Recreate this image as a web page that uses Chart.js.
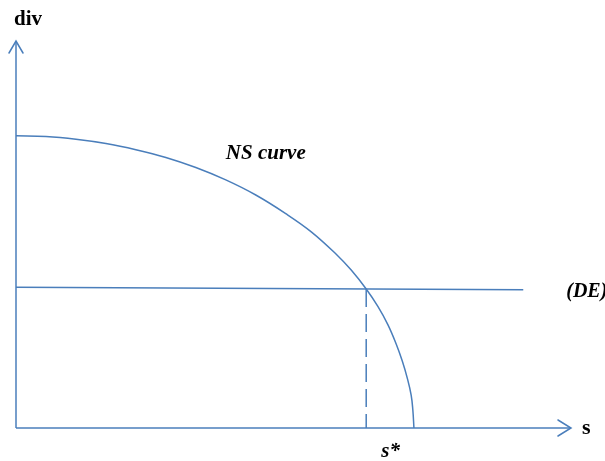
<!DOCTYPE html>
<html>
<head>
<meta charset="utf-8">
<script src="https://cdn.jsdelivr.net/npm/chart.js@4"></script>
<style>
  html, body { margin: 0; padding: 0; background: #fff; }
  #wrap { width: 605px; height: 461px; position: relative; }
</style>
</head>
<body>
<div id="wrap"><canvas id="grafico"></canvas></div>
<script>
// NS curve (s, div)
const nsS   = [0, 0.54, 1.08, 1.62, 2.16, 2.70, 3.24, 3.78, 4.32, 4.86, 5.32, 5.77, 6.04, 6.31, 6.52, 6.70, 6.85, 6.96, 7.05, 7.12, 7.15, 7.17];
const nsDiv = [7.55, 7.53, 7.46, 7.35, 7.19, 6.99, 6.73, 6.41, 6.02, 5.54, 5.07, 4.49, 4.08, 3.59, 3.14, 2.67, 2.17, 1.73, 1.29, 0.85, 0.47, 0];

// (DE) line, almost flat
const deS   = [0, 9.14];
const deDiv = [3.64, 3.57];

// s* (intersection)
const sStar = 6.31;
const divStar = 3.59;

// axes extent
const sMax = 10;
const divMax = 10;

const azul = '#4a7ebb';

function pares(xs, ys) {
    return xs.map((x, i) => ({ x: x, y: ys[i] }));
}

// Plugin para setas dos eixos e textos
const anotacoes = {
    id: 'anotacoes',
    afterDatasetsDraw(chart) {
        const ctx = chart.ctx;
        const x = chart.scales.x;
        const y = chart.scales.y;
        const x0 = x.getPixelForValue(0);
        const y0 = y.getPixelForValue(0);
        const xTip = x.getPixelForValue(sMax);
        const yTip = y.getPixelForValue(divMax);

        ctx.save();
        ctx.strokeStyle = azul;
        ctx.lineWidth = 1.5;
        ctx.lineCap = 'round';
        // seta do eixo s
        ctx.beginPath();
        ctx.moveTo(xTip - 13, y0 - 8);
        ctx.lineTo(xTip, y0);
        ctx.lineTo(xTip - 13, y0 + 8);
        ctx.stroke();
        // seta do eixo div
        ctx.beginPath();
        ctx.moveTo(x0 - 7, yTip + 12);
        ctx.lineTo(x0, yTip);
        ctx.lineTo(x0 + 7, yTip + 12);
        ctx.stroke();

        // textos
        ctx.fillStyle = '#000';
        ctx.textBaseline = 'alphabetic';
        ctx.textAlign = 'left';
        ctx.font = 'bold 21px "Liberation Serif"';
        ctx.fillText('div', x0 - 2, yTip - 16);
        ctx.font = 'bold 22px "Liberation Serif"';
        ctx.fillText('s', xTip + 11, y0 + 6);
        ctx.font = 'italic bold 21px "Liberation Serif"';
        ctx.fillText('NS curve', x.getPixelForValue(3.78), y.getPixelForValue(6.95));
        ctx.font = 'italic bold 20px "Liberation Serif"';
        ctx.fillText('(DE)', x.getPixelForValue(deS[1]) + 43, y.getPixelForValue(deDiv[1]) + 7);
        ctx.font = 'italic bold 21px "Liberation Serif"';
        ctx.fillText('s*', x.getPixelForValue(sStar) + 15, y0 + 29);
        ctx.restore();
    }
};

document.addEventListener('DOMContentLoaded', function () {
    const linha = {
        borderColor: azul,
        borderWidth: 1.5,
        pointRadius: 0,
        fill: false,
        clip: false,
        tension: 0
    };

    new Chart(document.getElementById('grafico').getContext('2d'), {
        type: 'line',
        data: {
            datasets: [
                Object.assign({}, linha, { label: 'NS curve', data: pares(nsS, nsDiv), tension: 0.4 }),
                Object.assign({}, linha, { label: '(DE)', data: pares(deS, deDiv) }),
                Object.assign({}, linha, { label: 's*', data: [{ x: sStar, y: divStar }, { x: sStar, y: 0 }], borderDash: [18, 7] }),
                Object.assign({}, linha, { label: 'eixo s', data: [{ x: 0, y: 0 }, { x: sMax, y: 0 }] }),
                Object.assign({}, linha, { label: 'eixo div', data: [{ x: 0, y: 0 }, { x: 0, y: divMax }] })
            ]
        },
        options: {
            responsive: true,
            maintainAspectRatio: false,
            animation: false,
            layout: { padding: { left: 16, right: 34, top: 41, bottom: 33 } },
            plugins: { legend: { display: false }, tooltip: { enabled: false } },
            scales: {
                x: { type: 'linear', min: 0, max: sMax, display: false },
                y: { type: 'linear', min: 0, max: divMax, display: false }
            }
        },
        plugins: [anotacoes]
    });
});
</script>
</body>
</html>
